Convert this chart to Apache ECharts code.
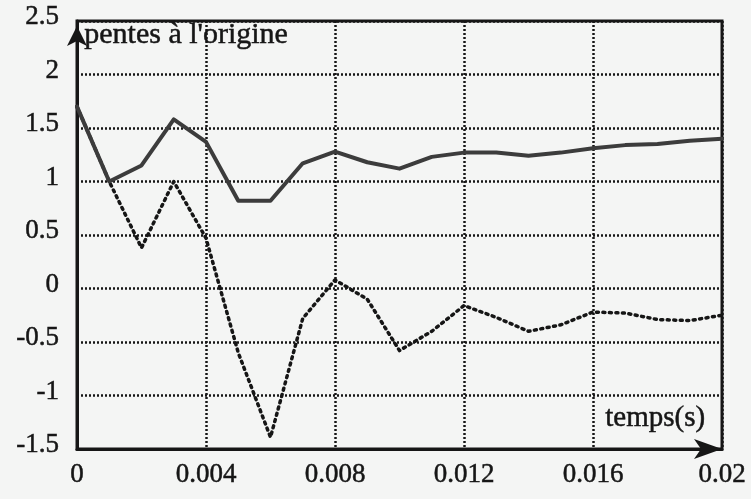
<!DOCTYPE html>
<html>
<head>
<meta charset="utf-8">
<script src="https://cdn.jsdelivr.net/npm/echarts@6/dist/echarts.min.js"></script>
<style>
  html, body { margin: 0; padding: 0; background: #f4f5f4; }
  #chart { width: 751px; height: 499px; }
</style>
</head>
<body>
<div id="chart"></div>
<script>
// Sample instants (s)
var temps = [0, 0.001, 0.002, 0.003, 0.004, 0.005, 0.006, 0.007, 0.008, 0.009, 0.010,
             0.011, 0.012, 0.013, 0.014, 0.015, 0.016, 0.017, 0.018, 0.019, 0.020];
// Solid curve
var penteA = [1.70, 1.00, 1.15, 1.58, 1.37, 0.82, 0.82, 1.17, 1.28, 1.18, 1.12,
              1.23, 1.27, 1.27, 1.24, 1.27, 1.31, 1.34, 1.35, 1.38, 1.40];
// Dotted curve
var penteB = [1.70, 1.00, 0.38, 1.00, 0.47, -0.60, -1.39, -0.28, 0.08, -0.10, -0.58,
              -0.40, -0.16, -0.27, -0.40, -0.34, -0.22, -0.23, -0.29, -0.30, -0.25];
// Axis ticks
var xTicks = [0, 0.004, 0.008, 0.012, 0.016, 0.02];
var yTicks = [-1.5, -1, -0.5, 0, 0.5, 1, 1.5, 2, 2.5];

var serif = '"Liberation Serif", "Times New Roman", serif';
var ink = '#161616';

function pairs(xs, ys) {
  return xs.map(function (x, i) { return [x, ys[i]]; });
}

var labelStyle = {
  color: ink, fontFamily: serif, fontSize: 27,
  textBorderColor: ink, textBorderWidth: 0.5
};

var chart = echarts.init(document.getElementById('chart'), null, { renderer: 'canvas' });

chart.setOption({
  backgroundColor: '#f4f5f4',
  animation: false,
  grid: {
    left: 77, right: 29, top: 21, bottom: 50,
    show: true,
    borderColor: ink,
    borderWidth: 3,
    backgroundColor: 'transparent'
  },
  xAxis: {
    type: 'value',
    min: xTicks[0],
    max: xTicks[xTicks.length - 1],
    interval: xTicks[1] - xTicks[0],
    axisLine: {
      show: true, onZero: false,
      lineStyle: { color: ink, width: 3 },
      symbol: ['none', 'arrow'],
      symbolSize: [15, 28]
    },
    axisTick: { show: false },
    axisLabel: Object.assign({}, labelStyle, {
      margin: 12,
      formatter: function (v) { return String(+v.toFixed(3)); }
    }),
    splitLine: { show: true, lineStyle: { color: ink, width: 2.5, type: [2, 2] } }
  },
  yAxis: {
    type: 'value',
    min: yTicks[0],
    max: yTicks[yTicks.length - 1],
    interval: yTicks[1] - yTicks[0],
    axisLine: {
      show: true, onZero: false,
      lineStyle: { color: ink, width: 3 },
      symbol: ['none', 'arrow'],
      symbolSize: [15, 20],
      symbolOffset: [0, -5]
    },
    axisTick: { show: false },
    axisLabel: Object.assign({}, labelStyle, {
      margin: 18, align: 'right',
      padding: [0, 0, 8, 0],
      formatter: '{v|{value}}',
      rich: {
        v: {
          width: 52, align: 'right',
          color: ink, fontFamily: serif, fontSize: 27,
          textBorderColor: ink, textBorderWidth: 0.5
        }
      }
    }),
    splitLine: { show: true, lineStyle: { color: ink, width: 2.5, type: [2, 2] } }
  },
  graphic: [
    {
      type: 'text', left: 84, top: 20, z: 10,
      style: {
        text: 'pentes à l\'origine', font: '30px ' + serif, fill: ink,
        stroke: ink, lineWidth: 0.5
      }
    },
    {
      type: 'text', left: 605, top: 404, z: 10,
      style: {
        text: 'temps(s)', font: '29px ' + serif, fill: ink,
        stroke: ink, lineWidth: 0.5
      }
    }
  ],
  series: [
    {
      type: 'line',
      data: pairs(temps, penteA),
      showSymbol: false,
      lineStyle: { color: '#3c3c3c', width: 4, join: 'round', cap: 'round' },
      z: 5
    },
    {
      type: 'line',
      data: pairs(temps, penteB),
      showSymbol: false,
      lineStyle: { color: ink, width: 3.5, type: [2, 4.5], cap: 'round', join: 'round' },
      z: 4
    }
  ]
});
</script>
</body>
</html>
